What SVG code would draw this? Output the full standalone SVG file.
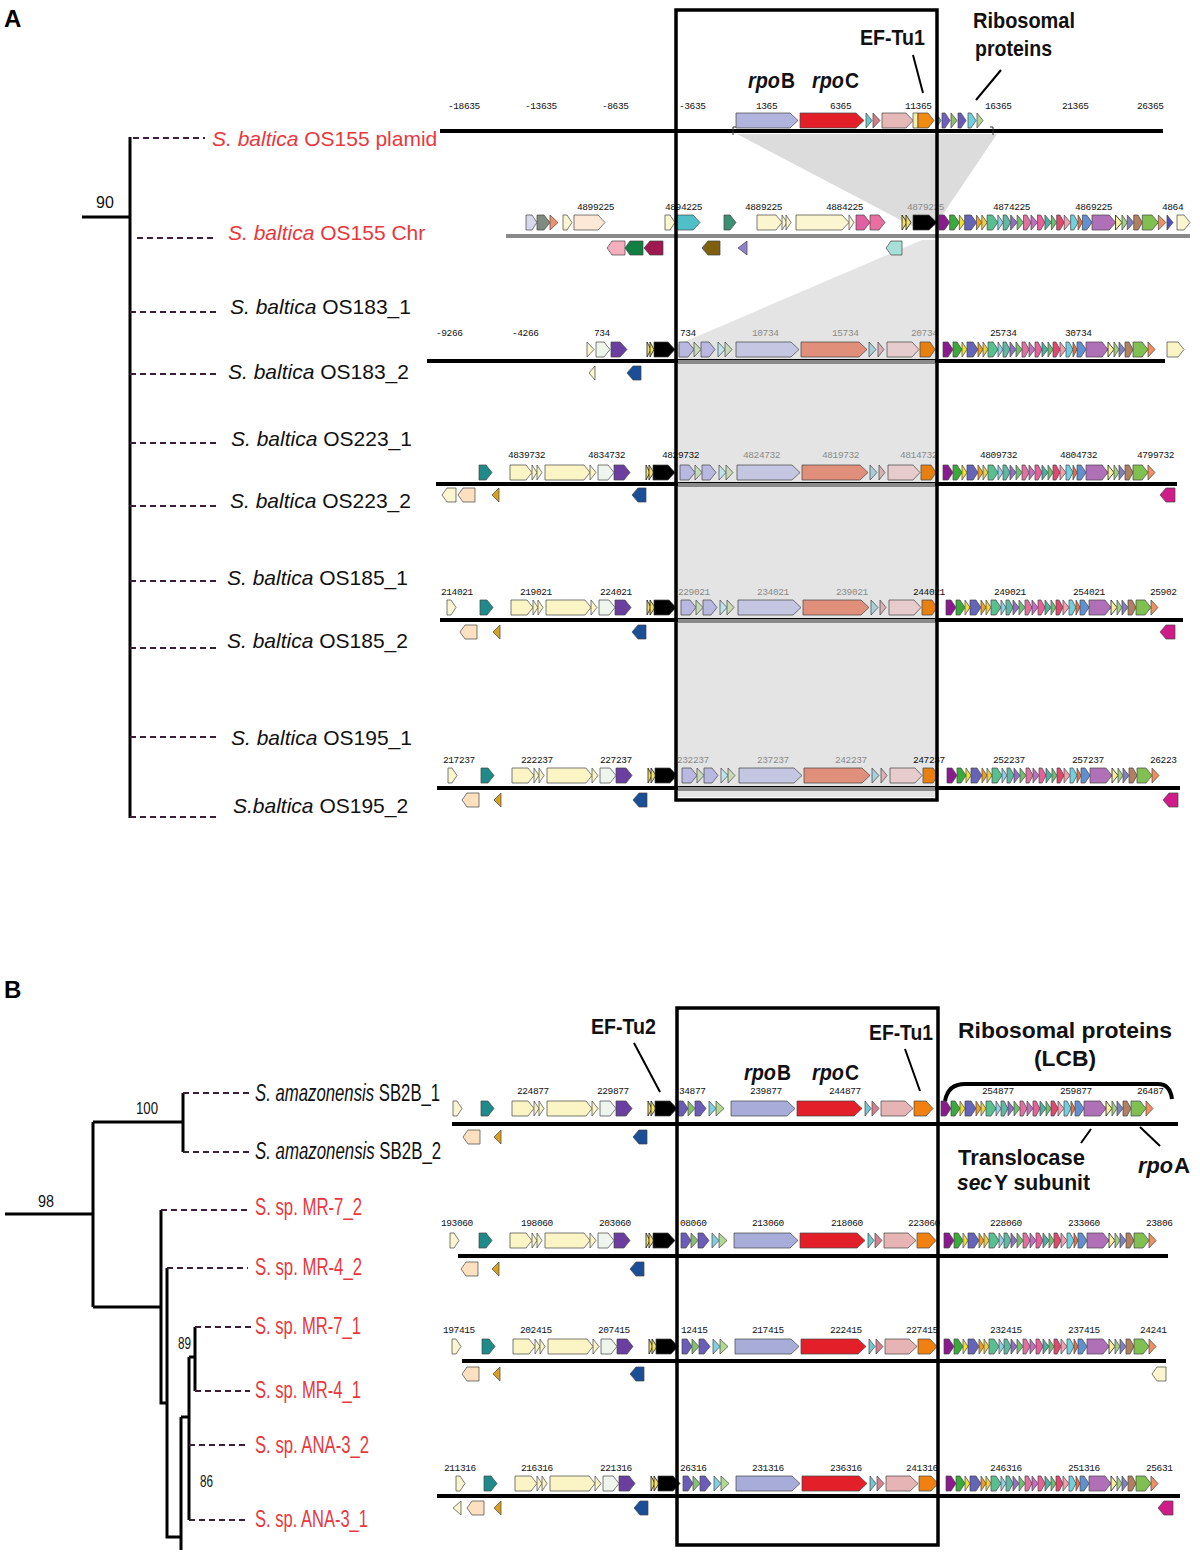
<svg xmlns="http://www.w3.org/2000/svg" xmlns:xlink="http://www.w3.org/1999/xlink" width="1200" height="1552" viewBox="0 0 1200 1552">
<style>
.g{stroke:#444;stroke-width:0.7}
.tk{font-family:"Liberation Mono",monospace;font-size:9.5px;fill:#111;letter-spacing:-0.4px}
.tkg{fill:#8a8a8a}
.lbA{font-family:"Liberation Sans",Arial,sans-serif;font-size:21px;fill:#111}
.lbB{font-family:"Liberation Sans",Arial,sans-serif;font-size:23px;fill:#111}
.it{font-style:italic}
.red{fill:#e8383d}
.ann{font-family:"Liberation Sans",Arial,sans-serif;font-weight:bold;font-size:22px;fill:#111}
.num{font-family:"Liberation Sans",Arial,sans-serif;font-size:16px;fill:#111}
.tree{stroke:#000;stroke-width:3;fill:none}
.dash{stroke:#3a1f3a;stroke-width:2;stroke-dasharray:6 4;fill:none}
.box{fill:none;stroke:#000;stroke-width:3.5}
.ln{stroke:#000;stroke-width:4;fill:none}
.lg{stroke:#8a8a8a;stroke-width:4;fill:none}
.lead{stroke:#000;stroke-width:2;fill:none}
</style>
<defs>
<g id="ribo">
<path fill="#8b1a8f" d="M0 0H5L10 7.5L5 15H0Z"/>
<path fill="#3aaa3a" d="M10 0H14L19 7.5L14 15H10Z"/>
<path fill="#f0e030" d="M19 0L24 7.5L19 15Z"/>
<path fill="#6464b8" d="M24 0H30L35 7.5L30 15H24Z"/>
<path fill="#f0a020" d="M35 0L40 7.5L35 15Z"/>
<path fill="#f0d040" d="M40 0L45 7.5L40 15Z"/>
<path fill="#58c090" d="M45 0H50L55 7.5L50 15H45Z"/>
<path fill="#90d0e8" d="M55 0L60 7.5L55 15Z"/>
<path fill="#60b8a0" d="M60 0H63L67 7.5L63 15H60Z"/>
<path fill="#9070c0" d="M67 0L73 7.5L67 15Z"/>
<path fill="#70c070" d="M73 0L79 7.5L73 15Z"/>
<path fill="#e070a0" d="M79 0H82L86 7.5L82 15H79Z"/>
<path fill="#c070c0" d="M86 0L92 7.5L86 15Z"/>
<path fill="#e86098" d="M92 0H95L99 7.5L95 15H92Z"/>
<path fill="#50b0a0" d="M99 0L105 7.5L99 15Z"/>
<path fill="#70c070" d="M105 0L110 7.5L105 15Z"/>
<path fill="#e04870" d="M110 0H113L117 7.5L113 15H110Z"/>
<path fill="#f0a0b0" d="M117 0L123 7.5L117 15Z"/>
<path fill="#70d0e0" d="M123 0H126L130 7.5L126 15H123Z"/>
<path fill="#f07040" d="M130 0L134 7.5L130 15Z"/>
<path fill="#6090d0" d="M134 0H138L143 7.5L138 15H134Z"/>
<path fill="#b070b8" d="M143 0H159L165 7.5L159 15H143Z"/>
<path fill="#f8f0a0" stroke="#000" d="M165 0L171 7.5L165 15Z"/>
<path fill="#a0d080" d="M171 0L176 7.5L171 15Z"/>
<path fill="#8080c0" d="M176 0L182 7.5L176 15Z"/>
<path fill="#b08060" d="M182 0H186L190 7.5L186 15H182Z"/>
<path fill="#80c050" d="M190 0H199L205 7.5L199 15H190Z"/>
<path fill="#f09060" d="M205 0L212 7.5L205 15Z"/>
</g>
<g id="leftB">
<path fill="#1f8a8a" d="M0 0H7L13 7.5L7 15H0Z"/>
<path fill="#fbf5c6" d="M31 0H47L53 7.5L47 15H31Z"/>
<path fill="#fbf5c6" d="M53 0L58 7.5L53 15Z"/>
<path fill="#fbf5c6" d="M58 0L63 7.5L58 15Z"/>
<path fill="#fbf5c6" d="M66 0H105L111 7.5L105 15H66Z"/>
<path fill="#fbf5c6" d="M111 0L117 7.5L111 15Z"/>
<path fill="#eef5ec" d="M119 0H129L135 7.5L129 15H119Z"/>
<path fill="#6b3fa0" d="M135 0H145L151 7.5L145 15H135Z"/>
<path fill="#f0e070" stroke="#000" d="M167 0L171 7.5L167 15Z"/>
<path fill="#f0e070" stroke="#000" d="M170 0L175 7.5L170 15Z"/>
<path fill="#000" d="M174 0H189L196 7.5L189 15H174Z"/>
</g>
<g id="coreA">
<path fill="#b8b8e0" d="M0 0H9L15 7.5L9 15H0Z"/>
<path fill="#c8dcb8" d="M15 0L22 7.5L15 15Z"/>
<path fill="#b8b8e0" d="M22 0H30L36 7.5L30 15H22Z"/>
<path fill="#c0e4ec" d="M39 0L46 7.5L39 15Z"/>
<path fill="#c8dcb8" d="M46 0L53 7.5L46 15Z"/>
<path fill="#c4c6e2" d="M57 0H112L120 7.5L112 15H57Z"/>
<path fill="#e0907a" d="M122 0H180L188 7.5L180 15H122Z"/>
<path fill="#a8d0dc" d="M190 0L197 7.5L190 15Z"/>
<path fill="#dcb0b8" d="M199 0L205 7.5L199 15Z"/>
<path fill="#e6cccc" d="M208 0H233L240 7.5L233 15H208Z"/>
<path fill="#e88010" d="M241 0H251L256 7.5L251 15H241Z"/>
</g>
<g id="coreB">
<path fill="#6a5cb8" d="M0 0H5L10 7.5L5 15H0Z"/>
<path fill="#88c070" d="M10 0L17 7.5L10 15Z"/>
<path fill="#6a5cb8" d="M17 0H22L28 7.5L22 15H17Z"/>
<path fill="#80d0e0" d="M31 0L38 7.5L31 15Z"/>
<path fill="#b0d890" d="M38 0L46 7.5L38 15Z"/>
<path fill="#a8acd8" d="M53 0H109L117 7.5L109 15H53Z"/>
<path fill="#e3202a" d="M119 0H176L184 7.5L176 15H119Z"/>
<path fill="#70c8d0" d="M187 0L193 7.5L187 15Z"/>
<path fill="#d88090" d="M194 0L201 7.5L194 15Z"/>
<path fill="#e6b4b4" d="M203 0H227L235 7.5L227 15H203Z"/>
<path fill="#f08010" d="M236 0H248L255 7.5L248 15H236Z"/>
</g>
<path id="fcream" fill="#fbf5d0" d="M0 0H4L9 7.5L4 15H0Z"/>
<path id="rpeach" fill="#fde0c0" d="M17 0H5L0 7L5 14H17Z"/>
<path id="rgold" fill="#d8a020" d="M7 0L0 7L7 14Z"/>
<path id="rblue" fill="#1a4f98" d="M14 0H6L0 7L6 14H14Z"/>
<path id="rmag" fill="#d01c88" d="M15 0H6L0 7L6 14H15Z"/>
<path id="rcream" fill="#fbf5d0" d="M14 0H5L0 7L5 14H14Z"/>
<path id="rcreamsm" fill="#fbf5d0" d="M8 0L0 7L8 14Z"/>
</defs>

<rect width="1200" height="1552" fill="#fff"/>

<!-- Panel A shading -->
<g id="shading">
<polygon points="737,134 997,134 935,226 912,226" fill="#dcdcdc"/>
<polygon points="922,240 937,240 937,797 677,797 677,345" fill="#e4e4e4"/>
</g>

<text x="4" y="27" font-family="Liberation Sans, Arial, sans-serif" font-weight="bold" font-size="24" fill="#000">A</text>
<text x="4" y="998" font-family="Liberation Sans, Arial, sans-serif" font-weight="bold" font-size="24" fill="#000">B</text>

<!-- Connectors: trees, dashes, leader lines -->
<g id="connectors">
<path class="tree" d="M82 217H130M130 137V818"/>
<path class="dash" d="M133 138H205M137 238H217M130 312H220M130 374H220M130 443H220M130 506H220M130 581H220M130 648H220M130 737H220M130 817H220"/>
<path class="tree" d="M5 1214H93M93 1122V1307M93 1122H183M183 1093V1152M93 1307H161M161 1210V1403H167M167 1268V1537H181M181 1417V1550M181 1417H189M189 1357V1520M189 1357H195M195 1327V1391"/>
<path class="dash" d="M183 1093H252M183 1152H252M161 1210H250M167 1268H248M195 1327H252M195 1391H250M189 1445H247M189 1520H247"/>
<path class="lead" d="M913 55L923 93M1001 70L976 100"/>
<path class="lead" d="M634 1043L660 1092M905 1049L920 1091M1091 1129L1081 1143M1140 1127L1160 1146"/>
<path d="M945 1101Q948 1084 965 1084H1158Q1170 1084 1172 1099" stroke="#000" stroke-width="4" fill="none"/>
</g>

<!-- tree numbers -->
<g id="support">
<text class="num" x="96" y="208">90</text>
<text class="num" x="38" y="1207" textLength="16" lengthAdjust="spacingAndGlyphs">98</text>
<text class="num" x="136" y="1114" textLength="22" lengthAdjust="spacingAndGlyphs">100</text>
<text class="num" x="178" y="1349" textLength="13" lengthAdjust="spacingAndGlyphs">89</text>
<text class="num" x="200" y="1487" textLength="13" lengthAdjust="spacingAndGlyphs">86</text>
</g>

<!-- Panel A leaf labels -->
<g id="leafA-plasmid"><text class="lbA red" x="212" y="146"><tspan class="it">S. baltica</tspan> OS155 plamid</text></g>
<g id="leafA-chr"><text class="lbA red" x="228" y="240"><tspan class="it">S. baltica</tspan> OS155 Chr</text></g>
<g id="leafA-183-1"><text class="lbA" x="230" y="314"><tspan class="it">S. baltica</tspan> OS183_1</text></g>
<g id="leafA-183-2"><text class="lbA" x="228" y="379"><tspan class="it">S. baltica</tspan> OS183_2</text></g>
<g id="leafA-223-1"><text class="lbA" x="231" y="446"><tspan class="it">S. baltica</tspan> OS223_1</text></g>
<g id="leafA-223-2"><text class="lbA" x="230" y="508"><tspan class="it">S. baltica</tspan> OS223_2</text></g>
<g id="leafA-185-1"><text class="lbA" x="227" y="585"><tspan class="it">S. baltica</tspan> OS185_1</text></g>
<g id="leafA-185-2"><text class="lbA" x="227" y="648"><tspan class="it">S. baltica</tspan> OS185_2</text></g>
<g id="leafA-195-1"><text class="lbA" x="231" y="745"><tspan class="it">S. baltica</tspan> OS195_1</text></g>
<g id="leafA-195-2"><text class="lbA" x="233" y="813"><tspan class="it">S.baltica</tspan> OS195_2</text></g>

<!-- Panel B leaf labels -->
<g id="leafB-sb2b-1"><text class="lbB" transform="translate(255,1101) scale(0.728,1)"><tspan class="it">S. amazonensis</tspan> SB2B_1</text></g>
<g id="leafB-sb2b-2"><text class="lbB" transform="translate(255,1159) scale(0.732,1)"><tspan class="it">S. amazonensis</tspan> SB2B_2</text></g>
<g id="leafB-mr7-2"><text class="lbB red" x="255" y="1215" textLength="107" lengthAdjust="spacingAndGlyphs">S. sp. MR-7_2</text></g>
<g id="leafB-mr4-2"><text class="lbB red" x="255" y="1275" textLength="107" lengthAdjust="spacingAndGlyphs">S. sp. MR-4_2</text></g>
<g id="leafB-mr7-1"><text class="lbB red" x="255" y="1334" textLength="106" lengthAdjust="spacingAndGlyphs">S. sp. MR-7_1</text></g>
<g id="leafB-mr4-1"><text class="lbB red" x="255" y="1398" textLength="106" lengthAdjust="spacingAndGlyphs">S. sp. MR-4_1</text></g>
<g id="leafB-ana3-2"><text class="lbB red" x="255" y="1453" textLength="114" lengthAdjust="spacingAndGlyphs">S. sp. ANA-3_2</text></g>
<g id="leafB-ana3-1"><text class="lbB red" x="255" y="1527" textLength="113" lengthAdjust="spacingAndGlyphs">S. sp. ANA-3_1</text></g>

<!-- Track: plasmid -->
<g id="track-plasmid">
<path class="ln" d="M440 131H1163"/>
<path d="M736 127H733V135M990 127H993V135" stroke="#333" stroke-width="1" fill="none"/>
<g class="g">
<path fill="#b1b4dc" d="M736 113H790L798 120.5L790 128H736Z"/>
<path fill="#e3202a" d="M800 113H856L864 120.5L856 128H800Z"/>
<path fill="#6cc8c8" d="M866 113L872 120.5L866 128Z"/>
<path fill="#d77a8a" d="M873 113L880 120.5L873 128Z"/>
<path fill="#e6b9b9" d="M882 113H906L913 120.5L906 128H882Z"/>
<path fill="#f6f0b0" d="M913 113H918V128H913Z"/>
<path fill="#f08a10" d="M918 113H928L934 120.5L928 128H918Z"/>
<path fill="#5fb0b0" d="M936 113L941 120.5L936 128Z"/>
<path fill="#7060c0" d="M942 113H945L950 120.5L945 128H942Z"/>
<path fill="#90c060" d="M951 113L957 120.5L951 128Z"/>
<path fill="#6a5ab8" d="M958 113H961L966 120.5L961 128H958Z"/>
<path fill="#70d0e0" d="M968 113H971L976 120.5L971 128H968Z"/>
<path fill="#b0d890" d="M977 113L983 120.5L977 128Z"/>
</g>
<g class="tk">
<text x="448" y="109">-18635</text><text x="525" y="109">-13635</text><text x="602" y="109">-8635</text><text x="679" y="109">-3635</text><text x="756" y="109">1365</text><text x="830" y="109">6365</text><text x="905" y="109">11365</text><text x="985" y="109">16365</text><text x="1062" y="109">21365</text><text x="1137" y="109">26365</text>
</g>
</g>

<!-- Track: chromosome -->
<g id="track-chr">
<path class="lg" d="M506 236H1190"/>
<g class="g">
<path fill="#d8d8ec" d="M526 215H532L537 222.5L532 230H526Z"/>
<path fill="#808a80" d="M537 215H544L550 222.5L544 230H537Z"/>
<path fill="#f09070" d="M550 215L558 222.5L550 230Z"/>
<path fill="#fbf5d0" d="M563 215H567L572 222.5L567 230H563Z"/>
<path fill="#fde8d8" d="M574 215H598L605 222.5L598 230H574Z"/>
<path fill="#fbf5d0" d="M665 215H670L675 222.5L670 230H665Z"/>
<path fill="#50c0c8" d="M676 215H693L700 222.5L693 230H676Z"/>
<path fill="#3a9070" d="M724 215H730L736 222.5L730 230H724Z"/>
<path fill="#fbf5d0" d="M757 215H776L782 222.5L776 230H757Z"/>
<path fill="#fbf5d0" d="M782 215L787 222.5L782 230Z"/>
<path fill="#fbf5d0" d="M786 215L791 222.5L786 230Z"/>
<path fill="#fbf5d0" d="M796 215H842L849 222.5L842 230H796Z"/>
<path fill="#fbf5d0" d="M849 215L854 222.5L849 230Z"/>
<path fill="#e060a0" d="M856 215H864L870 222.5L864 230H856Z"/>
<path fill="#e870a0" d="M870 215H879L885 222.5L879 230H870Z"/>
<path fill="#f0e070" stroke="#000" d="M902 215L907 222.5L902 230Z"/>
<path fill="#f0e070" stroke="#000" d="M906 215L911 222.5L906 230Z"/>
<path fill="#000" d="M913 215H929L937 222.5L929 230H913Z"/>
<use href="#ribo" transform="translate(939,215) scale(1.07,1)"/>
<path fill="#5050c0" d="M1167 215L1173 222.5L1167 230Z"/>
<path fill="#fbf5d0" d="M1177 215H1184L1190 222.5L1184 230H1177Z"/>
<path fill="#f5b0c0" d="M625 241H612L607 248L612 255H625Z"/>
<path fill="#108040" d="M643 241H630L625 248L630 255H643Z"/>
<path fill="#a01850" d="M663 241H650L644 248L650 255H663Z"/>
<path fill="#806010" d="M720 241H708L702 248L708 255H720Z"/>
<path fill="#9080d0" d="M747 241L738 248L747 255Z"/>
<path fill="#a8e0d8" d="M902 241H891L886 248L891 255H902Z"/>
</g>
<g class="tk">
<text x="577" y="210">4899225</text><text x="665" y="210">4894225</text><text x="745" y="210">4889225</text><text x="826" y="210">4884225</text><text x="907" y="210" class="tkg">4879225</text><text x="993" y="210">4874225</text><text x="1075" y="210">4869225</text><text x="1162" y="210">4864</text>
</g>
</g>

<!-- Track: OS183 -->
<g id="track-os183">
<path class="ln" d="M427 361H1165"/>
<path class="lg" d="M678 362H935" stroke-width="5"/>
<g class="g">
<path fill="#fbf5d0" d="M587 342L594 349.5L587 357Z"/>
<path fill="#eef5ec" d="M596 342H604L610 349.5L604 357H596Z"/>
<path fill="#6b3fa0" d="M611 342H620L627 349.5L620 357H611Z"/>
<path fill="#f0e070" stroke="#000" d="M647 342L651 349.5L647 357Z"/>
<path fill="#f0e070" stroke="#000" d="M650 342L654 349.5L650 357Z"/>
<path fill="#000" d="M654 342H668L675 349.5L668 357H654Z"/>
<use href="#coreA" x="679" y="342"/>
<use href="#ribo" x="943" y="342"/>
<path fill="#fbf5c6" d="M1167 342H1178L1184 349.5L1178 357H1167Z"/>
<path fill="#fbf5d0" d="M595 366L589 373L595 380Z"/>
<use href="#rblue" x="627" y="366"/>
</g>
<g class="tk">
<text x="436" y="336">-9266</text><text x="512" y="336">-4266</text><text x="594" y="336">734</text><text x="680" y="336">734</text><text x="752" y="336" class="tkg">10734</text><text x="832" y="336" class="tkg">15734</text><text x="911" y="336" class="tkg">20734</text><text x="990" y="336">25734</text><text x="1065" y="336">30734</text>
</g>
</g>

<!-- Track: OS223 -->
<g id="track-os223">
<path class="ln" d="M436 484H1177"/>
<path class="lg" d="M678 485H935" stroke-width="5"/>
<g class="g">
<use href="#leftB" x="479" y="465"/>
<use href="#coreA" x="680" y="465"/>
<use href="#ribo" x="943" y="465"/>
<use href="#rcream" x="442" y="488"/>
<use href="#rpeach" x="458" y="488"/>
<use href="#rgold" x="492" y="488"/>
<use href="#rblue" x="632" y="488"/>
<use href="#rmag" x="1160" y="488"/>
</g>
<g class="tk">
<text x="508" y="458">4839732</text><text x="588" y="458">4834732</text><text x="662" y="458">4829732</text><text x="743" y="458" class="tkg">4824732</text><text x="822" y="458" class="tkg">4819732</text><text x="900" y="458" class="tkg">4814732</text><text x="980" y="458">4809732</text><text x="1060" y="458">4804732</text><text x="1137" y="458">4799732</text>
</g>
</g>

<!-- Track: OS185 -->
<g id="track-os185">
<path class="ln" d="M440 620H1183"/>
<path class="lg" d="M678 621H935" stroke-width="5"/>
<g class="g">
<use href="#fcream" x="447" y="600"/>
<use href="#leftB" x="480" y="600"/>
<use href="#coreA" x="681" y="600"/>
<use href="#ribo" x="946" y="600"/>
<use href="#rpeach" x="460" y="625"/>
<use href="#rgold" x="493" y="625"/>
<use href="#rblue" x="632" y="625"/>
<use href="#rmag" x="1160" y="625"/>
</g>
<g class="tk">
<text x="441" y="595">214021</text><text x="520" y="595">219021</text><text x="600" y="595">224021</text><text x="678" y="595" class="tkg">229021</text><text x="757" y="595" class="tkg">234021</text><text x="836" y="595" class="tkg">239021</text><text x="913" y="595">244021</text><text x="994" y="595">249021</text><text x="1073" y="595">254021</text><text x="1150" y="595">25902</text>
</g>
</g>

<!-- Track: OS195 -->
<g id="track-os195">
<path class="ln" d="M437 788H1180"/>
<path class="lg" d="M678 789H935" stroke-width="5"/>
<g class="g">
<use href="#fcream" x="448" y="768"/>
<use href="#leftB" x="481" y="768"/>
<use href="#coreA" x="682" y="768"/>
<use href="#ribo" x="947" y="768"/>
<use href="#rpeach" x="462" y="793"/>
<use href="#rgold" x="494" y="793"/>
<use href="#rblue" x="633" y="793"/>
<use href="#rmag" x="1163" y="793"/>
</g>
<g class="tk">
<text x="443" y="763">217237</text><text x="521" y="763">222237</text><text x="600" y="763">227237</text><text x="677" y="763" class="tkg">232237</text><text x="757" y="763" class="tkg">237237</text><text x="835" y="763" class="tkg">242237</text><text x="913" y="763">247237</text><text x="993" y="763">252237</text><text x="1072" y="763">257237</text><text x="1150" y="763">26223</text>
</g>
</g>

<!-- Track: B1 SB2B -->
<g id="track-sb2b">
<path class="ln" d="M452 1124H1178"/>
<g class="g">
<use href="#fcream" x="453" y="1101"/>
<use href="#leftB" x="481" y="1101"/>
<use href="#coreB" x="678" y="1101"/>
<use href="#ribo" x="941" y="1101"/>
<use href="#rpeach" x="463" y="1130"/>
<use href="#rgold" x="494" y="1130"/>
<use href="#rblue" x="633" y="1130"/>
</g>
<g class="tk">
<text x="517" y="1094">224877</text><text x="597" y="1094">229877</text><text x="679" y="1094">34877</text><text x="750" y="1094">239877</text><text x="829" y="1094">244877</text><text x="982" y="1094">254877</text><text x="1060" y="1094">259877</text><text x="1137" y="1094">26487</text>
</g>
</g>

<!-- Track: B2 -->
<g id="track-mr-2">
<path class="ln" d="M458 1256H1168"/>
<g class="g">
<use href="#fcream" x="450" y="1233"/>
<use href="#leftB" x="479" y="1233"/>
<use href="#coreB" x="681" y="1233"/>
<use href="#ribo" x="944" y="1233"/>
<use href="#rpeach" x="461" y="1262"/>
<use href="#rgold" x="492" y="1262"/>
<use href="#rblue" x="630" y="1262"/>
</g>
<g class="tk">
<text x="441" y="1226">193060</text><text x="521" y="1226">198060</text><text x="599" y="1226">203060</text><text x="680" y="1226">08060</text><text x="752" y="1226">213060</text><text x="831" y="1226">218060</text><text x="908" y="1226">223060</text><text x="990" y="1226">228060</text><text x="1068" y="1226">233060</text><text x="1146" y="1226">23806</text>
</g>
</g>

<!-- Track: B3 -->
<g id="track-mr-1">
<path class="ln" d="M462 1361H1166"/>
<g class="g">
<use href="#fcream" x="452" y="1339"/>
<use href="#leftB" x="482" y="1339"/>
<use href="#coreB" x="682" y="1339"/>
<use href="#ribo" x="944" y="1339"/>
<use href="#rpeach" x="462" y="1367"/>
<use href="#rgold" x="493" y="1367"/>
<use href="#rblue" x="630" y="1367"/>
<use href="#rcream" x="1152" y="1367"/>
</g>
<g class="tk">
<text x="443" y="1333">197415</text><text x="520" y="1333">202415</text><text x="598" y="1333">207415</text><text x="681" y="1333">12415</text><text x="752" y="1333">217415</text><text x="830" y="1333">222415</text><text x="906" y="1333">227415</text><text x="990" y="1333">232415</text><text x="1068" y="1333">237415</text><text x="1140" y="1333">24241</text>
</g>
</g>

<!-- Track: B4 ANA-3 -->
<g id="track-ana3">
<path class="ln" d="M437 1496H1180"/>
<g class="g">
<use href="#fcream" x="456" y="1476"/>
<use href="#leftB" x="484" y="1476"/>
<use href="#coreB" x="683" y="1476"/>
<use href="#ribo" x="946" y="1476"/>
<use href="#rcreamsm" x="453" y="1501"/>
<use href="#rpeach" x="467" y="1501"/>
<use href="#rgold" x="494" y="1501"/>
<use href="#rblue" x="634" y="1501"/>
<use href="#rmag" x="1158" y="1501"/>
</g>
<g class="tk">
<text x="444" y="1471">211316</text><text x="521" y="1471">216316</text><text x="600" y="1471">221316</text><text x="680" y="1471">26316</text><text x="752" y="1471">231316</text><text x="830" y="1471">236316</text><text x="906" y="1471">241316</text><text x="990" y="1471">246316</text><text x="1068" y="1471">251316</text><text x="1146" y="1471">25631</text>
</g>
</g>

<!-- Boxes -->
<g id="box-A"><rect class="box" x="676" y="10" width="261" height="790"/></g>
<g id="box-B"><rect class="box" x="677" y="1008" width="261" height="537"/></g>

<!-- Annotations -->
<g id="annot-A">
<text class="ann" x="860" y="45" textLength="65" lengthAdjust="spacingAndGlyphs">EF-Tu1</text>
<text class="ann" x="973" y="28" textLength="102" lengthAdjust="spacingAndGlyphs">Ribosomal</text>
<text class="ann" x="975" y="56" textLength="77" lengthAdjust="spacingAndGlyphs">proteins</text>
<text class="ann it" x="748" y="88" textLength="32" lengthAdjust="spacingAndGlyphs">rpo</text>
<text class="ann" x="781" y="88" textLength="14" lengthAdjust="spacingAndGlyphs">B</text>
<text class="ann it" x="812" y="88" textLength="32" lengthAdjust="spacingAndGlyphs">rpo</text>
<text class="ann" x="845" y="88" textLength="14" lengthAdjust="spacingAndGlyphs">C</text>
</g>
<g id="annot-B">
<text class="ann" x="591" y="1034" textLength="65" lengthAdjust="spacingAndGlyphs">EF-Tu2</text>
<text class="ann it" x="744" y="1080" textLength="32" lengthAdjust="spacingAndGlyphs">rpo</text>
<text class="ann" x="777" y="1080" textLength="14" lengthAdjust="spacingAndGlyphs">B</text>
<text class="ann it" x="812" y="1080" textLength="32" lengthAdjust="spacingAndGlyphs">rpo</text>
<text class="ann" x="845" y="1080" textLength="14" lengthAdjust="spacingAndGlyphs">C</text>
<text class="ann" x="869" y="1040" textLength="64" lengthAdjust="spacingAndGlyphs">EF-Tu1</text>
<text class="ann" x="958" y="1038" textLength="214" lengthAdjust="spacingAndGlyphs">Ribosomal proteins</text>
<text class="ann" x="1034" y="1066" textLength="62" lengthAdjust="spacingAndGlyphs">(LCB)</text>
<text class="ann" x="958" y="1165" textLength="127" lengthAdjust="spacingAndGlyphs">Translocase</text>
<text class="ann it" x="957" y="1190" textLength="35" lengthAdjust="spacingAndGlyphs">sec</text>
<text class="ann" x="994" y="1190" textLength="96" lengthAdjust="spacingAndGlyphs">Y subunit</text>
<text class="ann it" x="1138" y="1173" textLength="35" lengthAdjust="spacingAndGlyphs">rpo</text>
<text class="ann" x="1174" y="1173" textLength="16" lengthAdjust="spacingAndGlyphs">A</text>
</g>
</svg>
